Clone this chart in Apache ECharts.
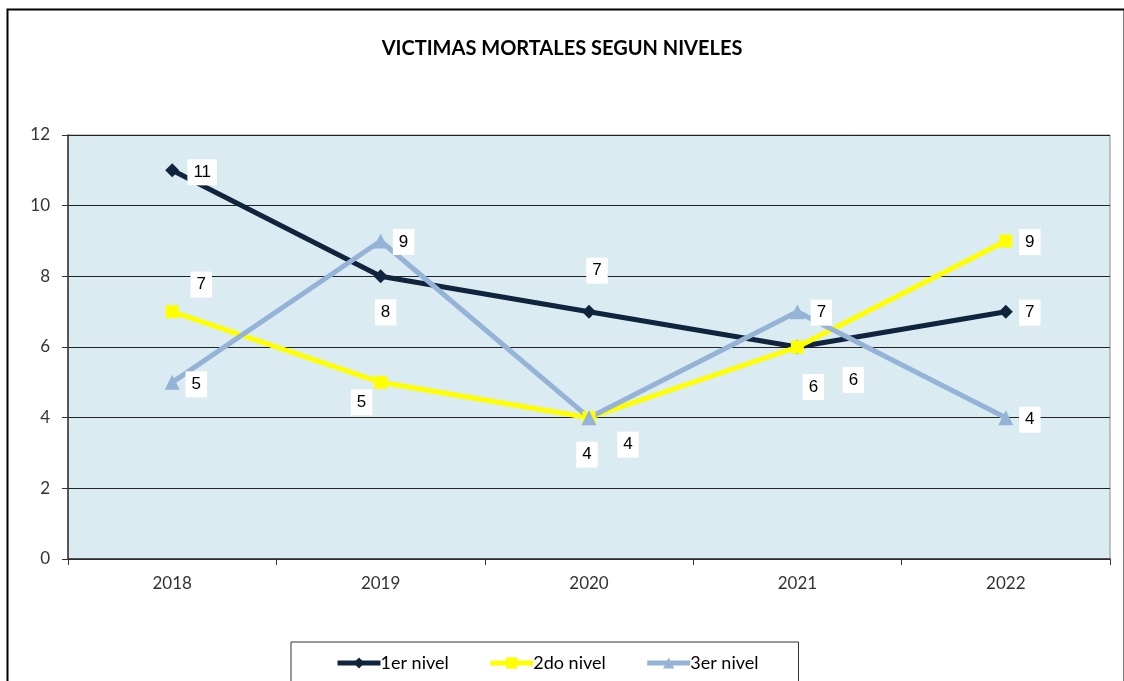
<!DOCTYPE html>
<html>
<head>
<meta charset="utf-8">
<script src="https://cdn.jsdelivr.net/npm/echarts@6/dist/echarts.min.js"></script>
<style>
  html, body { margin: 0; padding: 0; background: #fff; }
  #chart { width: 1124px; height: 681px; }
</style>
</head>
<body>
<div id="chart"></div>
<script>
// datos
const years = ['2018', '2019', '2020', '2021', '2022'];
const nivel1 = [11, 8, 7, 6, 7];
const nivel2 = [7, 5, 4, 6, 9];
const nivel3 = [5, 9, 4, 7, 4];
const seriesNames = ['1er nivel', '2do nivel', '3er nivel'];

// desplazamiento de cada etiqueta (px) respecto al punto
const offsets1 = [[30, 2], [5, 36], [8, -41], [16, 40], [24, 1]];
const offsets2 = [[29, -27], [-19, 20], [39, 27], [56, 33], [24, 1]];
const offsets3 = [[24, 2], [23, 1], [-2, 37], [24, 1], [24, 2]];

const chart = echarts.init(document.getElementById('chart'));

function makeData(values, offsets) {
  return values.map((v, i) => ({
    value: v,
    label: { offset: offsets[i] }
  }));
}

const labelStyle = {
  show: true,
  position: 'inside',
  color: '#000',
  fontSize: 17,
  fontFamily: 'Liberation Sans, Arial, sans-serif',
  backgroundColor: '#fff',
  padding: [5, 6, 4, 6]
};

function lineSeries(name, values, offsets, color, symbol, size) {
  return {
    name: name,
    type: 'line',
    data: makeData(values, offsets),
    symbol: symbol,
    symbolSize: size,
    lineStyle: { color: color, width: 5 },
    itemStyle: { color: color },
    label: labelStyle,
    emphasis: { disabled: true },
    z: 3
  };
}

const option = {
  backgroundColor: '#fff',
  animation: false,
  title: {
    text: 'VICTIMAS MORTALES SEGUN NIVELES',
    left: 'center',
    top: 34,
    textStyle: {
      fontFamily: 'Lato, sans-serif',
      fontSize: 20,
      fontWeight: 'bold',
      color: '#000'
    }
  },
  grid: {
    left: 68,
    right: 14,
    top: 135,
    bottom: 122,
    show: true,
    backgroundColor: '#dbebf2',
    borderColor: '#8c8c8c',
    borderWidth: 1
  },
  legend: {
    data: seriesNames,
    left: 291,
    top: 642,
    padding: [12, 40, 30, 44],
    borderColor: '#333',
    borderWidth: 1,
    itemWidth: 43,
    itemHeight: 14,
    itemGap: 39,
    lineStyle: { width: 5 },
    textStyle: {
      fontSize: 18,
      color: '#000',
      fontFamily: 'Lato, sans-serif',
      padding: [0, 0, 0, -5]
    }
  },
  xAxis: {
    type: 'category',
    data: years,
    boundaryGap: true,
    axisLine: { lineStyle: { color: '#333', width: 1.5 } },
    axisTick: { show: true, length: 6, lineStyle: { color: '#333' } },
    axisLabel: {
      color: '#333',
      fontSize: 17,
      margin: 16,
      fontFamily: 'Lato, sans-serif'
    }
  },
  yAxis: {
    type: 'value',
    min: 0,
    max: 12,
    interval: 2,
    axisLine: { show: true, lineStyle: { color: '#333', width: 1.5 } },
    axisTick: { show: true, length: 6, inside: false, lineStyle: { color: '#333' } },
    axisLabel: {
      color: '#333',
      fontSize: 17,
      margin: 18,
      fontFamily: 'Lato, sans-serif'
    },
    splitLine: { show: true, lineStyle: { color: '#222', width: 1.2 } }
  },
  series: [
    lineSeries(seriesNames[0], nivel1, offsets1, '#10243e', 'diamond', 14),
    lineSeries(seriesNames[1], nivel2, offsets2, '#ffff00', 'rect', 13),
    lineSeries(seriesNames[2], nivel3, offsets3, '#95b3d7', 'triangle', 15)
  ],
  graphic: [
    {
      type: 'rect',
      left: 5,
      top: 7,
      shape: { width: 1117, height: 680 },
      style: { fill: 'none', stroke: '#000', lineWidth: 2 },
      silent: true,
      z: -1
    }
  ]
};

chart.setOption(option);
</script>
</body>
</html>
